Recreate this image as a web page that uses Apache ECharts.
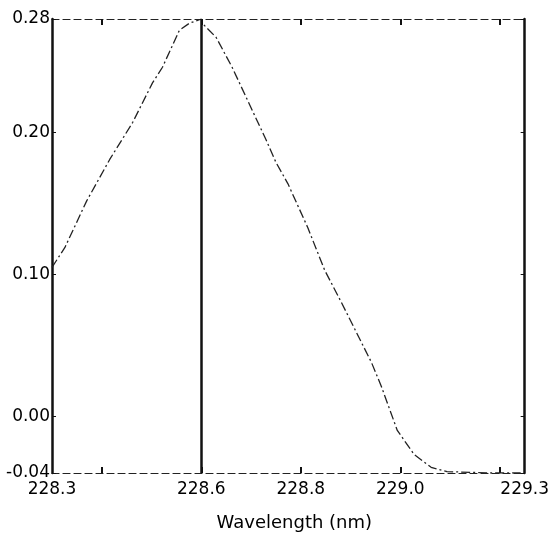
<!DOCTYPE html>
<html>
<head>
<meta charset="utf-8">
<script src="https://cdn.jsdelivr.net/npm/echarts@6/dist/echarts.min.js"></script>
<style>
  html, body { margin: 0; padding: 0; background: #fff; }
</style>
</head>
<body>
<div id="main" style="width: 552px; height: 540px"></div>
<script>
// spectrum: wavelength (nm) / absorbance
const wavelength = [
  228.30, 228.326, 228.37, 228.416, 228.462, 228.502, 228.522, 228.556, 228.576, 228.60,
  228.602, 228.63, 228.662, 228.69, 228.73, 228.75, 228.774, 228.814, 228.848, 228.882,
  228.942, 228.962, 228.994, 229.028, 229.062, 229.094, 229.182, 229.242
];
const absorbance = [
  0.105, 0.119, 0.152, 0.181, 0.207, 0.235, 0.246, 0.272, 0.277, 0.280,
  0.277, 0.267, 0.246, 0.225, 0.195, 0.179, 0.164, 0.133, 0.103, 0.080,
  0.038, 0.021, -0.010, -0.027, -0.036, -0.039, -0.040, -0.040
];
// line position marked on the plot
const peakLine = 228.6;

// axis labels / ticks
const xLabelValues = [228.3, 228.6, 228.8, 229.0, 229.25];
const xLabelTexts = ['228.3', '228.6', '228.8', '229.0', '229.3'];
const xTickValues = [228.4, 228.6, 228.8, 229.0, 229.2];
const yLabelValues = [-0.04, 0.00, 0.10, 0.20, 0.28];

const font = { fontFamily: 'DejaVu Sans', fontSize: 17, color: '#000' };

let chart = echarts.init(document.getElementById('main'));

let xBase = {
  type: 'value',
  min: 228.3,
  max: 229.25,
  splitLine: { show: false },
  axisTick: {
    show: true,
    inside: true,
    length: 6,
    customValues: xTickValues,
    lineStyle: { color: '#111', width: 2 }
  },
  axisLine: {
    onZero: false,
    lineStyle: { color: '#222', width: 1.2, type: [7, 4] }
  }
};

let yBase = {
  type: 'value',
  min: -0.04,
  max: 0.28,
  splitLine: { show: false },
  axisLine: {
    onZero: false,
    lineStyle: { color: '#111', width: 2.5 }
  },
  axisTick: {
    show: true,
    inside: true,
    length: 4,
    customValues: yLabelValues,
    lineStyle: { color: '#111', width: 1 }
  }
};

let option = {
  backgroundColor: '#fff',
  animation: false,
  grid: { left: 52, top: 19, right: 24, bottom: 67, containLabel: false },
  xAxis: [
    Object.assign({}, xBase, {
      position: 'bottom',
      name: 'Wavelength (nm)',
      nameLocation: 'middle',
      nameGap: 41,
      nameTextStyle: Object.assign({}, font, { fontSize: 18, padding: [0, 0, 0, 12] }),
      axisLabel: Object.assign({}, font, {
        margin: 8,
        customValues: xLabelValues,
        formatter: function (v) {
          let i = xLabelValues.findIndex(x => Math.abs(x - v) < 1e-6);
          return i >= 0 ? xLabelTexts[i] : '';
        }
      })
    }),
    Object.assign({}, xBase, {
      position: 'top',
      axisLabel: { show: false }
    })
  ],
  yAxis: [
    Object.assign({}, yBase, {
      position: 'left',
      axisLabel: Object.assign({}, font, {
        margin: 2,
        customValues: yLabelValues,
        formatter: function (v) {
          return v.toFixed(2);
        }
      })
    }),
    Object.assign({}, yBase, {
      position: 'right',
      axisLabel: { show: false }
    })
  ],
  series: [{
    type: 'line',
    data: wavelength.map((w, i) => [w, absorbance[i]]),
    showSymbol: false,
    lineStyle: { color: '#222', width: 1.3, type: [9, 3, 2, 3] },
    markLine: {
      silent: true,
      symbol: 'none',
      label: { show: false },
      lineStyle: { color: '#111', width: 2.5, type: 'solid' },
      data: [{ xAxis: peakLine }]
    }
  }]
};

chart.setOption(option);
</script>
</body>
</html>
